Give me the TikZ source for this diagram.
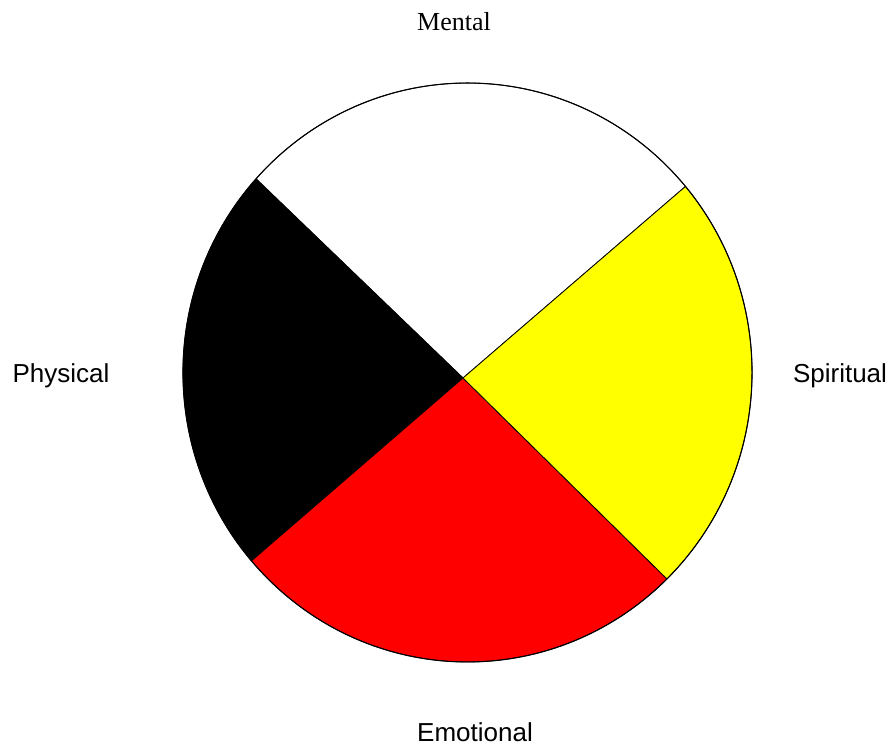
\documentclass[tikz,border=0pt]{standalone}
\usepackage{fontspec}
\setmainfont{Liberation Serif}
\newfontfamily\wheelsans{Liberation Sans}
\usepackage{tikz}
\usetikzlibrary{calc,positioning}
\definecolor{wheelyellow}{HTML}{FFFF00}
\definecolor{wheelred}{HTML}{FF0000}

\begin{document}
\begin{tikzpicture}[x=0.75pt,y=0.75pt,
    sector/.style={draw=black, line width=0.6pt, line join=round},
    quarter/.style={font=\wheelsans\fontsize{19.5}{22}\selectfont, inner sep=0pt}]
  \useasboundingbox (0,0) rectangle (895,749);

  %% Centre of the rim and meeting point of the four spokes
  \coordinate (rim) at (467.5,376.5);
  \coordinate (hub) at (463,371);

  %% Four quarters of the wheel
  \draw[sector, fill=white] (hub) -- ($(rim)+(40:213.4pt and 217.1pt)$)
    arc (40:138:213.4pt and 217.1pt) -- cycle;
  \draw[sector, fill=black] (hub) -- ($(rim)+(138:213.4pt and 217.1pt)$)
    arc (138:220.6:213.4pt and 217.1pt) -- cycle;
  \draw[sector, fill=wheelred] (hub) -- ($(rim)+(220.6:213.4pt and 217.1pt)$)
    arc (220.6:314.5:213.4pt and 217.1pt) -- cycle;
  \draw[sector, fill=wheelyellow] (hub) -- ($(rim)+(-45.5:213.4pt and 217.1pt)$)
    arc (-45.5:40:213.4pt and 217.1pt) -- cycle;

  %% Outer rim
  \draw[line width=0.8pt] (rim) ellipse (213.4pt and 217.1pt);

  %% Labels of the four directions
  \node[font=\fontsize{19.5}{22}\selectfont, inner sep=0pt] (mental) at (454,727) {Mental};
  \node[quarter] (physical) at (61,373) {Physical};
  \node[quarter] (spiritual) at (840,373) {Spiritual};
  \node[quarter] (emotional) at (475,17) {Emotional};
\end{tikzpicture}
\end{document}
